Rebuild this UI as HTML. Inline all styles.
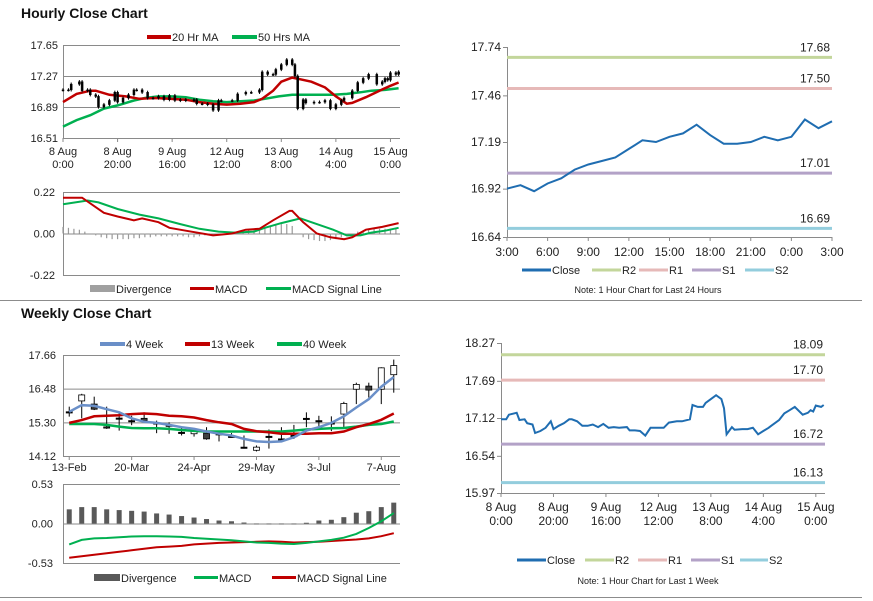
<!DOCTYPE html>
<html><head><meta charset="utf-8">
<style>
html,body{margin:0;padding:0;background:#fff;}
svg{display:block;font-family:"Liberation Sans",Arial,sans-serif;}
.t{font-size:11px;fill:#222;}
.ttl{font-size:14px;font-weight:bold;fill:#111;}
.lg{font-size:11px;fill:#222;}
</style></head>
<body>
<svg id="root" width="873" height="601" viewBox="0 0 873 601">
<text x="21" y="18" class="ttl">Hourly Close Chart</text>
<text x="21" y="318" class="ttl">Weekly Close Chart</text>
<line x1="0" y1="300.5" x2="862" y2="300.5" stroke="#8c8c8c"/>
<line x1="0" y1="597.5" x2="862" y2="597.5" stroke="#8c8c8c"/>

<g>
<line x1="147" y1="37" x2="171" y2="37" stroke="#c00000" stroke-width="4"/>
<text x="172" y="41" class="lg">20 Hr MA</text>
<line x1="232" y1="37" x2="257" y2="37" stroke="#00b050" stroke-width="4"/>
<text x="258" y="41" class="lg">50 Hrs MA</text>
</g>
<g>
<rect x="90" y="285" width="25" height="7" fill="#a0a0a0"/>
<text x="116" y="293" class="lg">Divergence</text>
<line x1="190" y1="288.5" x2="214" y2="288.5" stroke="#c00000" stroke-width="3"/>
<text x="215" y="293" class="lg">MACD</text>
<line x1="266" y1="288.5" x2="291" y2="288.5" stroke="#00b050" stroke-width="3"/>
<text x="292" y="293" class="lg">MACD Signal Line</text>
</g>
<g>
<line x1="100" y1="344" x2="125" y2="344" stroke="#6a8fc8" stroke-width="4"/>
<text x="126" y="348" class="lg">4 Week</text>
<line x1="185" y1="344" x2="210" y2="344" stroke="#c00000" stroke-width="4"/>
<text x="211" y="348" class="lg">13 Week</text>
<line x1="277" y1="344" x2="302" y2="344" stroke="#00b050" stroke-width="4"/>
<text x="303" y="348" class="lg">40 Week</text>
</g>
<g>
<rect x="94" y="574" width="26" height="7" fill="#595959"/>
<text x="121" y="582" class="lg">Divergence</text>
<line x1="194" y1="577.5" x2="218" y2="577.5" stroke="#00b050" stroke-width="3"/>
<text x="219" y="582" class="lg">MACD</text>
<line x1="272" y1="577.5" x2="296" y2="577.5" stroke="#c00000" stroke-width="3"/>
<text x="297" y="582" class="lg">MACD Signal Line</text>
</g>
<g>
<line x1="522" y1="270" x2="551" y2="270" stroke="#1f6db1" stroke-width="3"/>
<text x="552" y="274" class="lg">Close</text>
<line x1="592" y1="270" x2="621" y2="270" stroke="#c3d69b" stroke-width="3"/>
<text x="622" y="274" class="lg">R2</text>
<line x1="639" y1="270" x2="668" y2="270" stroke="#e6b9b8" stroke-width="3"/>
<text x="669" y="274" class="lg">R1</text>
<line x1="692" y1="270" x2="721" y2="270" stroke="#b3a2c7" stroke-width="3"/>
<text x="722" y="274" class="lg">S1</text>
<line x1="745" y1="270" x2="774" y2="270" stroke="#93cddd" stroke-width="3"/>
<text x="775" y="274" class="lg">S2</text>
<text x="648" y="293" text-anchor="middle" style="font-size:9px" fill="#222">Note: 1 Hour Chart for Last 24 Hours</text>
</g>
<g>
<line x1="517" y1="560" x2="546" y2="560" stroke="#1f6db1" stroke-width="3"/>
<text x="547" y="564" class="lg">Close</text>
<line x1="585" y1="560" x2="614" y2="560" stroke="#c3d69b" stroke-width="3"/>
<text x="615" y="564" class="lg">R2</text>
<line x1="638" y1="560" x2="667" y2="560" stroke="#e6b9b8" stroke-width="3"/>
<text x="668" y="564" class="lg">R1</text>
<line x1="691" y1="560" x2="720" y2="560" stroke="#b3a2c7" stroke-width="3"/>
<text x="721" y="564" class="lg">S1</text>
<line x1="740" y1="560" x2="768" y2="560" stroke="#93cddd" stroke-width="3"/>
<text x="769" y="564" class="lg">S2</text>
<text x="648" y="584" text-anchor="middle" style="font-size:9px" fill="#222">Note: 1 Hour Chart for Last 1 Week</text>
</g>
</svg>
<script>
// ---------- DATA ----------
const closeHours = [0,2,3,6,7,9,10,12,13,15,17,19,20,22,24,26,27,29,31,33,35,37,39,41,43,45,48,49,51,53,55,57,58,62,64,67,69,72,73,75,77,78,80,82,84,85,86,88,89,92,94,96,98,100,102,103,106,108,110,112,115,117,118,119,120,122,123];
const closeValues = [17.10,17.10,17.17,17.20,17.09,17.10,17.04,17.02,16.89,16.92,16.97,17.07,16.95,17.00,17.04,17.10,17.10,17.07,17.00,17.00,17.02,16.98,17.03,16.97,16.98,16.97,16.98,16.93,16.93,16.92,16.85,16.97,16.97,16.97,17.05,17.07,17.07,17.10,17.32,17.29,17.29,17.35,17.41,17.47,17.41,17.27,16.87,16.98,16.94,16.95,16.95,16.97,16.87,16.92,16.97,17.00,17.09,17.19,17.24,17.29,17.17,17.20,17.24,17.22,17.31,17.29,17.32];
const ma20Hours = [0,5,10,12,17,23,28,34,39,45,50,55,60,65,70,73,77,80,84,87,91,96,100,104,106,111,116,120,123];
const ma20Values = [16.95,17.05,17.09,17.09,17.04,17.02,16.99,17.00,16.99,16.98,16.95,16.93,16.92,16.93,16.95,16.99,17.09,17.20,17.25,17.23,17.20,17.13,17.02,16.93,16.94,17.01,17.09,17.15,17.19];
const ma50Hours = [0,5,10,15,20,26,30,35,40,45,50,55,60,65,70,74,79,84,89,94,99,104,109,113,118,123];
const ma50Values = [16.65,16.73,16.79,16.87,16.91,16.97,17.00,17.02,17.02,17.01,16.98,16.96,16.95,16.96,16.97,16.99,17.02,17.04,17.04,17.04,17.04,17.05,17.07,17.09,17.10,17.12];
const hTickHours = [0,20,40,60,80,100,120];
const hTickLine1 = ['8 Aug','8 Aug','9 Aug','12 Aug','13 Aug','14 Aug','15 Aug'];
const hTickLine2 = ['0:00','20:00','16:00','12:00','8:00','4:00','0:00'];
const hPriceTicks = [17.65,17.27,16.89,16.51];
const hMacdHours = [0,7,15,20,26,29,35,39,45,55,62,67,72,77,83,84,88,93,98,103,106,111,117,123];
const hMacdValues = [0.19,0.19,0.11,0.09,0.07,0.08,0.06,0.03,0.015,-0.01,0.0,0.02,0.025,0.07,0.12,0.12,0.06,0.0,-0.02,-0.03,-0.02,0.02,0.035,0.055];
const hSignalHours = [0,9,13,20,28,35,43,50,57,63,70,74,80,87,93,99,104,109,113,118,123];
const hSignalValues = [0.155,0.175,0.165,0.13,0.10,0.08,0.05,0.025,0.01,0.005,0.01,0.03,0.055,0.08,0.05,0.02,-0.01,-0.01,0.005,0.015,0.03];
const hDivergence = [0.035,0.03,0.025,0.02,0.01,0.0,-0.01,-0.02,-0.025,-0.03,-0.03,-0.03,-0.03,-0.025,-0.025,-0.02,-0.02,-0.015,-0.015,-0.015,-0.015,-0.015,-0.015,-0.02,-0.02,-0.015,-0.01,-0.005,0.0,0.0,0.005,0.01,0.01,0.015,0.02,0.025,0.03,0.035,0.04,0.045,0.05,0.05,0.04,0.0,-0.02,-0.03,-0.035,-0.04,-0.04,-0.035,-0.03,-0.02,-0.01,0.0,0.01,0.015,0.02,0.025,0.025,0.025,0.025,0.025];
const hMacdTicks = [0.22,0.00,-0.22];

const dayHours = [0,1,2,3,4,5,6,7,8,9,10,11,12,13,14,15,16,17,18,19,20,21,22,23,24];
const dayClose = [16.92,16.94,16.905,16.95,16.98,17.03,17.06,17.08,17.10,17.15,17.20,17.19,17.22,17.24,17.29,17.23,17.18,17.18,17.19,17.22,17.20,17.22,17.32,17.27,17.31];
const dayTickLabels = ['3:00','6:00','9:00','12:00','15:00','18:00','21:00','0:00','3:00'];
const dayPriceTicks = [17.74,17.46,17.19,16.92,16.64];
const dayLevels = [17.68,17.50,17.01,16.69];
const levelNames = ['R2','R1','S1','S2'];

const weekPriceTicks = [18.27,17.69,17.12,16.54,15.97];
const weekLevels = [18.09,17.70,16.72,16.13];

const wkOpen =  [15.67,16.05,15.94,15.14,15.45,15.36,15.44,15.28,15.20,14.95,14.90,14.92,14.90,14.81,14.43,14.32,14.81,14.72,14.84,15.44,15.36,15.28,15.59,16.46,16.57,16.46,16.97];
const wkClose = [15.67,16.26,15.76,15.10,15.45,15.36,15.36,15.28,15.20,14.95,14.99,14.72,14.90,14.81,14.43,14.43,14.81,14.72,14.84,15.44,15.36,15.28,15.96,16.63,16.43,17.21,17.29];
const wkHigh =  [15.85,16.30,16.20,15.85,15.65,15.53,15.65,15.36,15.30,15.13,15.07,15.13,15.01,14.92,14.84,14.49,15.05,15.13,15.21,15.65,15.53,15.51,16.02,16.69,16.69,17.23,17.50];
const wkLow =   [15.50,15.44,15.73,15.07,15.01,15.20,15.30,14.92,14.90,14.84,14.80,14.69,14.63,14.78,14.38,14.28,14.38,14.61,14.72,15.13,15.15,14.99,15.13,15.94,16.17,15.94,16.34];
const wk4 = [15.67,15.90,15.88,15.76,15.65,15.44,15.32,15.28,15.21,15.13,15.07,14.98,14.90,14.84,14.72,14.63,14.61,14.63,14.78,15.01,15.13,15.28,15.51,15.82,16.11,16.55,16.89];
const wk13 = [15.28,15.38,15.51,15.53,15.55,15.59,15.61,15.59,15.53,15.51,15.47,15.38,15.30,15.24,15.07,14.99,14.95,14.90,14.90,14.90,14.92,14.92,14.98,15.13,15.24,15.39,15.61];
const wk40 = [15.24,15.24,15.24,15.21,15.15,15.10,15.09,15.09,15.07,15.03,15.00,14.98,14.98,14.98,14.98,14.98,14.98,14.98,15.01,15.05,15.07,15.09,15.10,15.15,15.21,15.24,15.33];
const wTickIdx = [0,5,10,15,20,25];
const wTickLabels = ['13-Feb','20-Mar','24-Apr','29-May','3-Jul','7-Aug'];
const wPriceTicks = [17.66,16.48,15.30,14.12];
const wDivergence = [0.19,0.22,0.22,0.19,0.18,0.17,0.16,0.135,0.12,0.10,0.08,0.06,0.04,0.03,0.013,0.0,-0.01,-0.01,0.0,0.01,0.04,0.05,0.085,0.145,0.165,0.22,0.28];
const wMacd = [-0.28,-0.22,-0.20,-0.195,-0.185,-0.175,-0.17,-0.17,-0.175,-0.18,-0.195,-0.205,-0.215,-0.225,-0.24,-0.255,-0.26,-0.27,-0.275,-0.26,-0.24,-0.22,-0.19,-0.14,-0.06,0.03,0.14];
const wSignal = [-0.46,-0.44,-0.42,-0.40,-0.38,-0.36,-0.34,-0.32,-0.31,-0.30,-0.28,-0.27,-0.26,-0.255,-0.25,-0.245,-0.24,-0.245,-0.255,-0.25,-0.245,-0.235,-0.225,-0.215,-0.20,-0.17,-0.13];
const wMacdTicks = [0.53,0.00,-0.53];

// ---------- HELPERS ----------
const NS='http://www.w3.org/2000/svg';
const root=document.getElementById('root');
function mk(tag, attrs){const e=document.createElementNS(NS,tag);for(const k in attrs)e.setAttribute(k,attrs[k]);root.appendChild(e);return e;}
function lin(d0,d1,r0,r1){return v=>r0+(v-d0)/(d1-d0)*(r1-r0);}
function pathD(xs,ys,fx,fy){return xs.map((x,i)=>(i?'L':'M')+fx(x).toFixed(1)+','+fy(ys[i]).toFixed(1)).join(' ');}
const GRID='#8a8a8a';

// ---------- HOURLY PRICE (top-left) ----------
{
const X=lin(0,123.5,63,400), Y=lin(17.65,16.51,45,138);
hPriceTicks.forEach(v=>{
 const g=mk('line',{x1:63,x2:400,y1:Y(v)+0.5,y2:Y(v)+0.5,stroke:GRID});
 
 
 const t=mk('text',{x:58,y:Y(v)+4,'text-anchor':'end',class:'t'});t.textContent=v.toFixed(2);
 
 
});
const ax=mk('line',{x1:63.5,x2:63.5,y1:45,y2:138,stroke:GRID});


hTickHours.forEach((h,i)=>{
 const tk=mk('line',{x1:X(h),x2:X(h),y1:138,y2:142,stroke:GRID});
 
 
 const t=mk('text',{x:X(h),y:155,'text-anchor':'middle',class:'t'});t.textContent=hTickLine1[i];
 
 
 const t2=mk('text',{x:X(h),y:168,'text-anchor':'middle',class:'t'});t2.textContent=hTickLine2[i];
 
 
});
const m50=mk('path',{d:pathD(ma50Hours,ma50Values,X,Y),fill:'none',stroke:'#00b050','stroke-width':2.5});


const m20=mk('path',{d:pathD(ma20Hours,ma20Values,X,Y),fill:'none',stroke:'#c00000','stroke-width':2.5});


closeValues.forEach((c,i)=>{
 const o=i?closeValues[i-1]:c;
 const top=Y(Math.max(o,c)+0.02), bot=Y(Math.min(o,c)-0.02);
 const w=mk('line',{x1:X(closeHours[i]),x2:X(closeHours[i]),y1:top,y2:bot,stroke:'#000','stroke-width':1});
 
 
 const b=mk('rect',{x:X(closeHours[i])-1,y:Y(Math.max(o,c)),width:2,height:Math.max(1,Y(Math.min(o,c))-Y(Math.max(o,c))),fill:'#000',stroke:'#000','stroke-width':0.5});
 
 
});
}
// ---------- HOURLY MACD ----------
{
const X=lin(0,123.5,63,400), Y=lin(0.22,-0.22,192,275);
hMacdTicks.forEach(v=>{
 const g=mk('line',{x1:63,x2:400,y1:Y(v)+0.5,y2:Y(v)+0.5,stroke:GRID});
 
 
 const t=mk('text',{x:55,y:Y(v)+4,'text-anchor':'end',class:'t'});t.textContent=v.toFixed(2);
 
 
});
const ax=mk('line',{x1:63.5,x2:63.5,y1:192,y2:275,stroke:GRID});


hDivergence.forEach((v,i)=>{
 const r=mk('rect',{x:X(i*2)-0.6,y:Math.min(Y(v),Y(0)),width:1.2,height:Math.abs(Y(v)-Y(0)),fill:'#9a9a9a'});
 
 
});
const s=mk('path',{d:pathD(hSignalHours,hSignalValues,X,Y),fill:'none',stroke:'#00b050','stroke-width':2});


const m=mk('path',{d:pathD(hMacdHours,hMacdValues,X,Y),fill:'none',stroke:'#c00000','stroke-width':2});


}
// ---------- PIVOT CHARTS ----------
const levelColors=['#c3d69b','#e6b9b8','#b3a2c7','#93cddd'];
function pivot(x0,x1,y0,y1,dmin,dmax,ticks,levels,hours,vals,hmax,name){
 const X=lin(0,hmax,x0,x1), Y=lin(dmax,dmin,y0,y1);
 const ay=mk('line',{x1:x0+0.5,x2:x0+0.5,y1:y0,y2:y1,stroke:GRID});
 
 
 const axx=mk('line',{x1:x0,x2:x1,y1:y1+0.5,y2:y1+0.5,stroke:GRID});
 
 
 ticks.forEach(v=>{
  const tk=mk('line',{x1:x0-4,x2:x0,y1:Y(v)+0.5,y2:Y(v)+0.5,stroke:GRID});
  
  
  const t=mk('text',{x:x0-6,y:Y(v)+4,'text-anchor':'end',class:'t',style:'font-size:12px'});t.textContent=v.toFixed(2);
  
  
 });
 levels.forEach((v,i)=>{
  const l=mk('line',{x1:x0,x2:x1,y1:Y(v),y2:Y(v),stroke:levelColors[i],'stroke-width':3});
  
  
  const t=mk('text',{x:x1-2,y:Y(v)-6,'text-anchor':'end',class:'t',style:'font-size:12px'});t.textContent=v.toFixed(2);
  
  
 });
 const p=mk('path',{d:pathD(hours,vals,X,Y),fill:'none',stroke:'#1f6db1','stroke-width':2});
 
 
 return X;
}
{
const X=pivot(507,832,47,237,16.64,17.74,dayPriceTicks,dayLevels,dayHours,dayClose,24,'day-pivot');
dayTickLabels.forEach((lab,i)=>{
 const tk=mk('line',{x1:X(i*3),x2:X(i*3),y1:237,y2:241,stroke:GRID});
 
 
 const t=mk('text',{x:X(i*3),y:256,'text-anchor':'middle',class:'t',style:'font-size:12px'});t.textContent=lab;
 
 
});
}
{
const X=pivot(501,825,343,493,15.97,18.27,weekPriceTicks,weekLevels,closeHours,closeValues,123.5,'week-pivot');
hTickHours.forEach((h,i)=>{
 const tk=mk('line',{x1:X(h),x2:X(h),y1:493,y2:497,stroke:GRID});
 
 
 const t=mk('text',{x:X(h),y:511,'text-anchor':'middle',class:'t',style:'font-size:12px'});t.textContent=hTickLine1[i];
 
 
 const t2=mk('text',{x:X(h),y:525,'text-anchor':'middle',class:'t',style:'font-size:12px'});t2.textContent=hTickLine2[i];
 
 
});
}
// ---------- WEEKLY PRICE ----------
{
const n=wkClose.length, bw=337/n;
const X=i=>63+(i+0.5)*bw, Y=lin(17.66,14.12,355,456);
wPriceTicks.forEach(v=>{
 const g=mk('line',{x1:63,x2:400,y1:Y(v)+0.5,y2:Y(v)+0.5,stroke:GRID});
 
 
 const t=mk('text',{x:56,y:Y(v)+4,'text-anchor':'end',class:'t'});t.textContent=v.toFixed(2);
 
 
});
const ax=mk('line',{x1:63.5,x2:63.5,y1:355,y2:456,stroke:GRID});


wTickIdx.forEach((idx,i)=>{
 const tk=mk('line',{x1:X(idx),x2:X(idx),y1:456,y2:460,stroke:GRID});
 
 
 const t=mk('text',{x:X(idx),y:471,'text-anchor':'middle',class:'t'});t.textContent=wTickLabels[i];
 
 
});
wkClose.forEach((c,i)=>{
 const o=wkOpen[i];
 const w=mk('line',{x1:X(i),x2:X(i),y1:Y(wkHigh[i]),y2:Y(wkLow[i]),stroke:'#000','stroke-width':1});
 
 
 const top=Y(Math.max(o,c)), h=Math.max(1.2,Y(Math.min(o,c))-top);
 const b=mk('rect',{x:X(i)-3,y:top,width:6,height:h,fill:c>o?'#fff':(c<o?'#404040':'#000'),stroke:'#000','stroke-width':0.8});
 
 
});
const idx=wkClose.map((_,i)=>i);
const g40=mk('path',{d:pathD(idx,wk40,X,Y),fill:'none',stroke:'#00b050','stroke-width':2.5});


const g13=mk('path',{d:pathD(idx,wk13,X,Y),fill:'none',stroke:'#c00000','stroke-width':2.5});


const g4=mk('path',{d:pathD(idx,wk4,X,Y),fill:'none',stroke:'#6a8fc8','stroke-width':2.5});


}
// ---------- WEEKLY MACD ----------
{
const n=wDivergence.length, bw=337/n;
const X=i=>63+(i+0.5)*bw, Y=lin(0.53,-0.53,484,563);
wMacdTicks.forEach(v=>{
 const g=mk('line',{x1:63,x2:400,y1:Y(v)+0.5,y2:Y(v)+0.5,stroke:GRID});
 
 
 const t=mk('text',{x:53,y:Y(v)+4,'text-anchor':'end',class:'t'});t.textContent=v.toFixed(2);
 
 
});
const ax=mk('line',{x1:63.5,x2:63.5,y1:484,y2:563,stroke:GRID});


wDivergence.forEach((v,i)=>{
 const r=mk('rect',{x:X(i)-2.5,y:Math.min(Y(v),Y(0)),width:5,height:Math.max(0.8,Math.abs(Y(v)-Y(0))),fill:'#595959'});
 
 
});
const idx=wMacd.map((_,i)=>i);
const s=mk('path',{d:pathD(idx,wSignal,X,Y),fill:'none',stroke:'#c00000','stroke-width':2});


const m=mk('path',{d:pathD(idx,wMacd,X,Y),fill:'none',stroke:'#00b050','stroke-width':2});


}
</script>
</body></html>
